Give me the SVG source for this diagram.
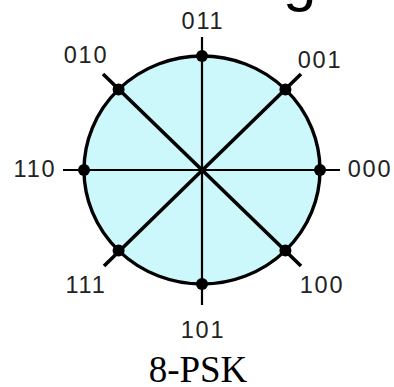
<svg xmlns="http://www.w3.org/2000/svg" width="394" height="387" viewBox="0 0 394 387">
<style>
.lbl{font-family:"Liberation Sans",Arial,sans-serif;font-size:23.5px;letter-spacing:1.8px;fill:#222;text-anchor:middle}
.ttl{font-family:"Liberation Serif","Times New Roman",serif;font-size:37px;fill:#000;text-anchor:middle}
.ax{stroke:#000;stroke-width:2.2;fill:none}
.dg{stroke:#000;stroke-width:3.6;fill:none;stroke-linecap:butt}
.dot{fill:#000}
</style>
<rect width="394" height="387" fill="#fff"/>
<text x="283" y="0" style="font-family:'Liberation Sans',Arial,sans-serif;font-size:60px;fill:#000">g</text>
<g id="circle">
<ellipse cx="202" cy="170" rx="118" ry="114" fill="#ccf7fb" stroke="#000" stroke-width="3.4"/>
</g>
<g id="connectors">
<line class="ax" x1="202" y1="37" x2="202" y2="305"/>
<line class="ax" x1="63" y1="170" x2="340" y2="170"/>
<line class="dg" x1="103" y1="74" x2="301" y2="266"/>
<line class="dg" x1="301" y1="74" x2="104" y2="266"/>
</g>
<g id="p000"><circle class="dot" cx="320" cy="170" r="6"/><text class="lbl" x="370" y="177">000</text></g>
<g id="p001"><circle class="dot" cx="285.4" cy="89.4" r="6"/><text class="lbl" x="320" y="68">001</text></g>
<g id="p011"><circle class="dot" cx="202" cy="56" r="6"/><text class="lbl" x="203" y="29">011</text></g>
<g id="p010"><circle class="dot" cx="118.6" cy="89.4" r="6"/><text class="lbl" x="86" y="63">010</text></g>
<g id="p110"><circle class="dot" cx="84" cy="170" r="6"/><text class="lbl" x="35" y="177">110</text></g>
<g id="p111"><circle class="dot" cx="118.6" cy="250.6" r="6"/><text class="lbl" x="86" y="293">111</text></g>
<g id="p101"><circle class="dot" cx="202" cy="284" r="6"/><text class="lbl" x="203" y="338">101</text></g>
<g id="p100"><circle class="dot" cx="285.4" cy="250.6" r="6"/><text class="lbl" x="322" y="293">100</text></g>
<text class="ttl" x="198" y="382">8-PSK</text>
</svg>
